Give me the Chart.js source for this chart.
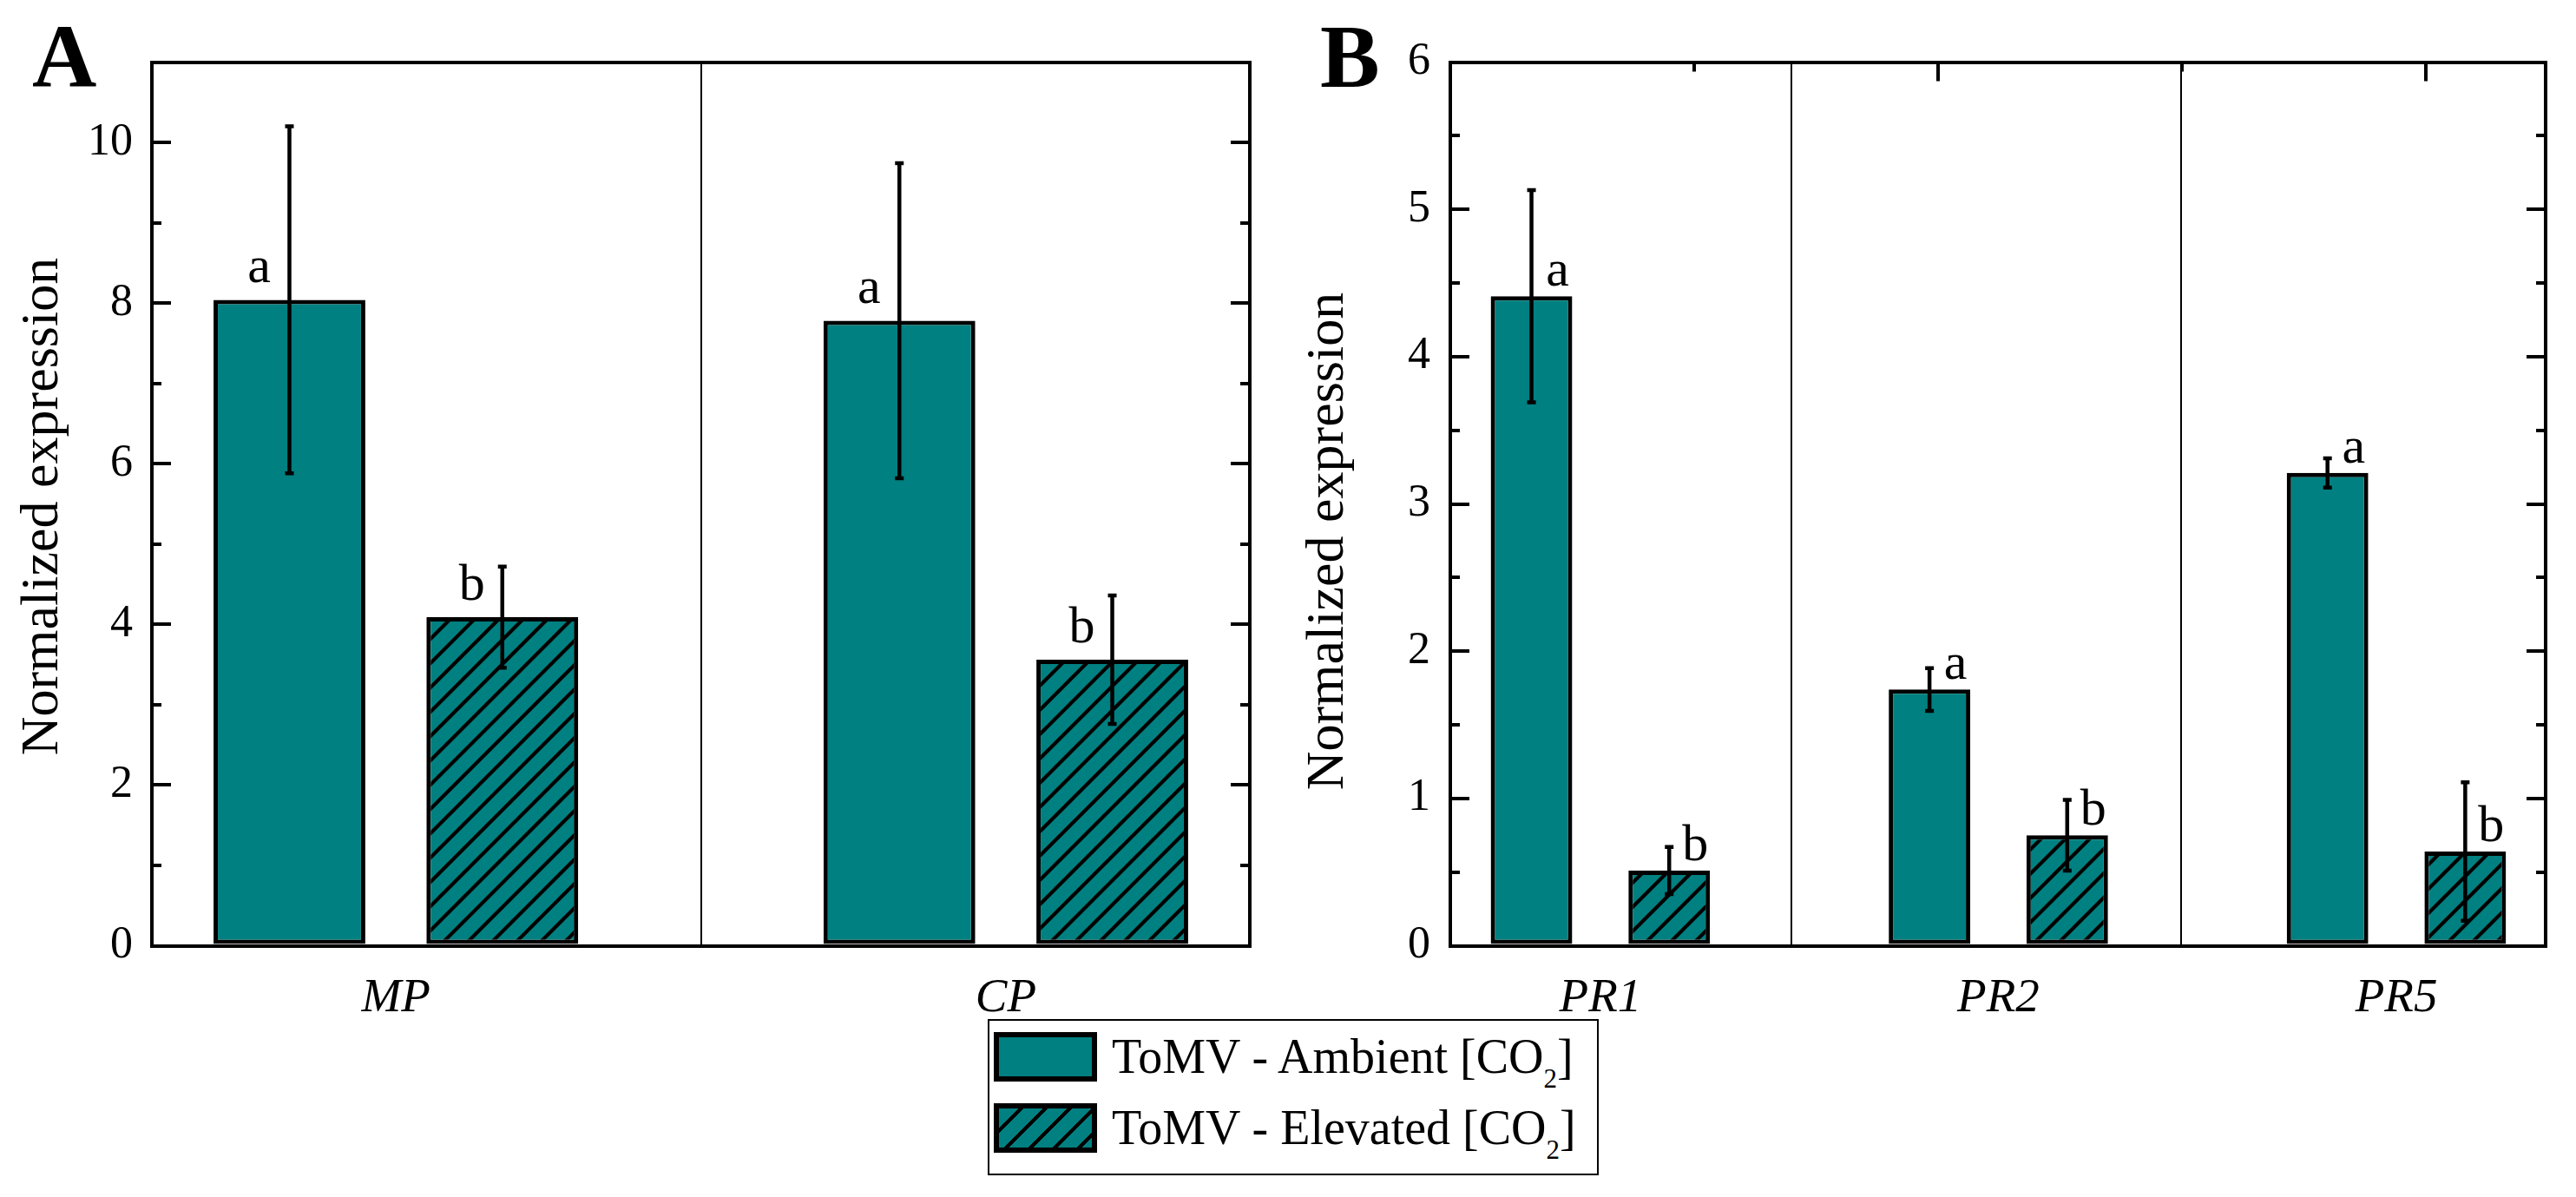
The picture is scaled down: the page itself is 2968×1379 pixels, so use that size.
<!DOCTYPE html>
<html lang="en">
<head>
<meta charset="utf-8">
<title>Normalized expression - ToMV</title>
<script src="https://cdn.jsdelivr.net/npm/chart.js@4.4.1/dist/chart.umd.min.js"></script>
<style>
  html, body { margin:0; padding:0; background:#ffffff; }
  body { position:relative; width:2968px; height:1379px; overflow:hidden;
         font-family:"Liberation Serif","Times New Roman",serif; color:#000; }
  canvas { position:absolute; top:0; }
  #cA { left:0; }
  #cB { left:1470px; }
  .panel-letter { position:absolute; top:14px; font-size:103px; font-weight:bold; line-height:1; }
  #legend { position:absolute; left:1138px; top:1174px; width:700px; height:176px;
            border:2px solid #000; background:#fff; }
  .entry { position:absolute; left:5px; height:57px; width:690px; }
  .swatch { position:absolute; left:0; top:0; width:107px; height:45px; border:6px solid #000;
            background:#008080; }
  .swatch.hatch { background: repeating-linear-gradient(135deg, #008080 0px, #008080 15.6px, #000 15.6px, #000 19.8px); }
  .entry-text { position:absolute; left:136px; top:0; font-size:56px; line-height:57px; white-space:nowrap; }
  .entry-text sub { font-size:31px; vertical-align:-17px; line-height:0; }
</style>
</head>
<body>
<canvas id="cA" width="1470" height="1379"></canvas>
<canvas id="cB" width="1498" height="1379"></canvas>
<div class="panel-letter" style="left:37px;">A</div>
<div class="panel-letter" style="left:1521px;">B</div>
<div id="legend">
  <div class="entry" style="top:13px;"><div class="swatch"></div><div class="entry-text">ToMV - Ambient [CO<sub>2</sub>]</div></div>
  <div class="entry" style="top:95px;"><div class="swatch hatch"></div><div class="entry-text">ToMV - Elevated [CO<sub>2</sub>]</div></div>
</div>
<script>
// ---------------- DATA ----------------
const seriesNames = ['ToMV - Ambient [CO2]', 'ToMV - Elevated [CO2]'];
const yTitle = 'Normalized expression';

// Panel A
const categoriesA = ['MP', 'CP'];
const ambientA = [8.04, 7.78];
const ambientErrA = [2.16, 1.96];
const elevatedA = [4.09, 3.56];
const elevatedErrA = [0.63, 0.80];
const lettersAmbientA = ['a', 'a'];
const lettersElevatedA = ['b', 'b'];
const yTicksA = [0, 2, 4, 6, 8, 10];

// Panel B
const categoriesB = ['PR1', 'PR2', 'PR5'];
const ambientB = [4.41, 1.74, 3.21];
const ambientErrB = [0.72, 0.145, 0.10];
const elevatedB = [0.51, 0.75, 0.64];
const elevatedErrB = [0.16, 0.24, 0.47];
const lettersAmbientB = ['a', 'a', 'a'];
const lettersElevatedB = ['b', 'b', 'b'];
const yTicksB = [0, 1, 2, 3, 4, 5, 6];

// ---------------- STYLE / HELPERS ----------------
const TEAL = '#008080';
const SERIF = '"Liberation Serif", "Times New Roman", serif';

function hatchPattern(ctx) {
  const s = 28;
  const c = document.createElement('canvas');
  c.width = s; c.height = s;
  const g = c.getContext('2d');
  g.fillStyle = TEAL; g.fillRect(0, 0, s, s);
  g.strokeStyle = '#000'; g.lineWidth = 4.2;
  g.beginPath();
  g.moveTo(-2, s + 2); g.lineTo(s + 2, -2);
  g.moveTo(-s / 2 - 2, s / 2 + 2); g.lineTo(s / 2 + 2, -s / 2 - 2);
  g.moveTo(s / 2 - 2, s * 1.5 + 2); g.lineTo(s * 1.5 + 2, s / 2 - 2);
  g.stroke();
  return ctx.createPattern(c, 'repeat');
}

const fitSize = (prop, val) => (s) => {
  s[prop] = val;
  s.paddingLeft = 0; s.paddingRight = 0; s.paddingTop = 0; s.paddingBottom = 0;
};
const setTicks = (vals) => (s) => { s.ticks = vals.map(v => ({ value: v })); };

const errorBarPlugin = {
  id: 'errbars',
  afterDatasetsDraw(chart, args, opts) {
    const { ctx } = chart;
    const yScale = chart.scales.y;
    chart.data.datasets.forEach((ds, di) => {
      const meta = chart.getDatasetMeta(di);
      meta.data.forEach((bar, i) => {
        const v = ds.data[i].y, e = ds.errors[i];
        const yTop = yScale.getPixelForValue(v + e);
        const yBot = yScale.getPixelForValue(v - e);
        ctx.save();
        ctx.strokeStyle = '#000';
        ctx.lineWidth = 4.5;
        ctx.beginPath();
        ctx.moveTo(bar.x, yTop); ctx.lineTo(bar.x, yBot);
        ctx.moveTo(bar.x - opts.cap, yTop); ctx.lineTo(bar.x + opts.cap, yTop);
        ctx.moveTo(bar.x - opts.cap, yBot); ctx.lineTo(bar.x + opts.cap, yBot);
        ctx.stroke();
        ctx.fillStyle = '#000';
        ctx.font = opts.letterFont;
        ctx.textAlign = 'center';
        ctx.textBaseline = 'alphabetic';
        ctx.fillText(ds.letters[i], bar.x + opts.letterDx, bar.y - opts.letterGap);
        ctx.restore();
      });
    });
  }
};

// Rotated y-axis title, centred on the y scale with an optional shift along the axis
const yTitlePlugin = {
  id: 'ytitle',
  afterDraw(chart, args, o) {
    const s = chart.scales.y;
    const { ctx } = chart;
    ctx.save();
    ctx.translate(s.left + o.x, (s.top + s.bottom) / 2 + o.dy);
    ctx.rotate(-Math.PI / 2);
    ctx.font = o.font;
    ctx.fillStyle = '#000';
    ctx.textAlign = 'center';
    ctx.textBaseline = 'middle';
    ctx.fillText(o.text, 0, 0);
    ctx.restore();
  }
};

function buildChart(canvasId, cfg) {
  const canvas = document.getElementById(canvasId);
  const ctx = canvas.getContext('2d');
  const hatch = hatchPattern(ctx);
  const xs = cfg.categories.map((c, i) => i + 1);
  const minorY = cfg.yTicks.slice(1).map((v, i) => (v + cfg.yTicks[i]) / 2);

  const barStyle = { borderColor: '#000', borderWidth: 5, borderSkipped: false,
                     categoryPercentage: cfg.catPct, barPercentage: cfg.barPct };
  const datasets = [
    Object.assign({ label: seriesNames[0], data: cfg.ambient.map((v, i) => ({ x: xs[i], y: v })),
      errors: cfg.ambientErr, letters: cfg.lettersAmbient, backgroundColor: TEAL }, barStyle),
    Object.assign({ label: seriesNames[1], data: cfg.elevated.map((v, i) => ({ x: xs[i], y: v })),
      errors: cfg.elevatedErr, letters: cfg.lettersElevated, backgroundColor: hatch }, barStyle)
  ];

  const noLabels = { display: false };
  const tickGrid = (len, show) => ({ display: show, offset: false, drawOnChartArea: false, drawTicks: true,
                                    tickLength: len, tickWidth: 4, lineWidth: 4, color: '#000' });
  const axisBorder = { display: true, color: '#000', width: 4 };

  const scales = {
    x: { type: 'linear', position: 'bottom', weight: 1, min: cfg.xMin, max: cfg.xMax, offset: false,
         afterBuildTicks: setTicks(xs), afterFit: fitSize('height', cfg.bottomH),
         grid: { display: false, offset: false }, border: axisBorder,
         ticks: { display: true, autoSkip: false, maxRotation: 0, minRotation: 0, padding: 20, color: '#000',
                  font: { family: SERIF, size: 55, style: 'italic' },
                  callback: (v, i) => cfg.categories[i] } },
    xDiv: { type: 'linear', position: 'bottom', weight: 0, min: cfg.xMin, max: cfg.xMax, offset: false,
            afterBuildTicks: setTicks(cfg.dividers), afterFit: fitSize('height', 0),
            grid: { display: true, offset: false, drawOnChartArea: true, drawTicks: false, color: '#000', lineWidth: 2 },
            border: { display: false }, ticks: noLabels },
    xTop: { type: 'linear', position: 'top', weight: 1, min: cfg.xMin, max: cfg.xMax, offset: false,
            afterBuildTicks: setTicks(cfg.topMajor), afterFit: fitSize('height', cfg.topH),
            grid: tickGrid(-22, cfg.topMajor.length > 0), border: axisBorder, ticks: noLabels },
    xTopMinor: { type: 'linear', position: 'top', weight: 0, min: cfg.xMin, max: cfg.xMax, offset: false,
            afterBuildTicks: setTicks(cfg.topMinor), afterFit: fitSize('height', 0),
            grid: tickGrid(-11, cfg.topMinor.length > 0), border: { display: false }, ticks: noLabels },
    y: { type: 'linear', position: 'left', weight: 1, min: 0, max: cfg.yMax,
         afterBuildTicks: setTicks(cfg.yTicks), afterFit: fitSize('width', cfg.leftW),
         grid: tickGrid(-22, true), border: axisBorder,
         ticks: { display: true, padding: cfg.yLabelPad, color: '#000', font: { family: SERIF, size: 52 } },
         title: { display: false } },
    yMinor: { type: 'linear', position: 'left', weight: 0, min: 0, max: cfg.yMax,
              afterBuildTicks: setTicks(minorY), afterFit: fitSize('width', 0),
              grid: tickGrid(-11, true), border: { display: false }, ticks: noLabels },
    yR: { type: 'linear', position: 'right', weight: 1, min: 0, max: cfg.yMax,
          afterBuildTicks: setTicks(cfg.yTicks), afterFit: fitSize('width', 0),
          grid: tickGrid(-22, true), border: axisBorder, ticks: noLabels },
    yRMinor: { type: 'linear', position: 'right', weight: 0, min: 0, max: cfg.yMax,
               afterBuildTicks: setTicks(minorY), afterFit: fitSize('width', 0),
               grid: tickGrid(-11, true), border: { display: false }, ticks: noLabels }
  };

  return new Chart(ctx, {
    type: 'bar',
    data: { datasets },
    options: {
      responsive: false,
      animation: false,
      devicePixelRatio: 1,
      events: [],
      layout: { padding: { left: 0, top: 0, right: cfg.rightPad, bottom: 0 } },
      plugins: {
        legend: { display: false },
        tooltip: { enabled: false },
        errbars: { cap: 5, letterDx: cfg.letterDx, letterGap: cfg.letterGap,
                   letterFont: '60px ' + SERIF },
        ytitle: { text: yTitle, font: '62px ' + SERIF, x: cfg.titleX, dy: cfg.titleDy }
      },
      scales
    },
    plugins: [errorBarPlugin, yTitlePlugin]
  });
}

// Panel B top-axis tick spacing (in category units)
const xMinB = 0.623, xMaxB = 3.375, topStepB = 1.2257;
const topMajorB = [], topMinorB = [];
for (let v = xMinB; v <= xMaxB + 1e-9; v += topStepB) {
  topMajorB.push(v);
  if (v + topStepB / 2 <= xMaxB) topMinorB.push(v + topStepB / 2);
}

buildChart('cA', {
  categories: categoriesA, ambient: ambientA, ambientErr: ambientErrA,
  elevated: elevatedA, elevatedErr: elevatedErrA,
  lettersAmbient: lettersAmbientA, lettersElevated: lettersElevatedA,
  yTicks: yTicksA, yMax: 11, xMin: 0.6, xMax: 2.4, dividers: [1.5],
  topMajor: [], topMinor: [],
  catPct: 0.698, barPct: 0.713,
  leftW: 175, topH: 71.5, bottomH: 289.5, rightPad: 30,
  yLabelPad: 44, titleX: 50, titleDy: 3, letterDx: -35, letterGap: 20
});

buildChart('cB', {
  categories: categoriesB, ambient: ambientB, ambientErr: ambientErrB,
  elevated: elevatedB, elevatedErr: elevatedErrB,
  lettersAmbient: lettersAmbientB, lettersElevated: lettersElevatedB,
  yTicks: yTicksB, yMax: 6, xMin: xMinB, xMax: xMaxB, dividers: [1.48, 2.46],
  topMajor: topMajorB, topMinor: topMinorB,
  catPct: 0.692, barPct: 0.592,
  leftW: 201, topH: 71.5, bottomH: 289.5, rightPad: 35,
  yLabelPad: 45, titleX: 61, titleDy: 43, letterDx: 30, letterGap: 12
});
</script>
</body>
</html>
